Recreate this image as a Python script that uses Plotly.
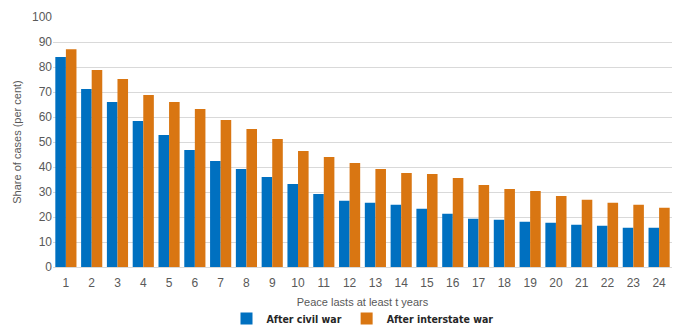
import plotly.graph_objects as go

years = [str(i) for i in range(1, 25)]
civil_war = [84, 71.2, 66, 58.4, 52.8, 46.8, 42.4, 39.2, 36, 33.2, 29.2, 26.5,
             25.7, 24.9, 23.3, 21.3, 19.3, 18.9, 18.1, 17.7, 16.9, 16.5, 15.7, 15.7]
interstate_war = [87.1, 78.8, 75.2, 68.8, 66, 63.2, 58.8, 55.2, 51.2, 46.4, 44, 41.6,
                  39.2, 37.6, 37.2, 35.6, 32.8, 31.2, 30.4, 28.4, 26.9, 25.7, 24.9, 23.7]
y_ticks = list(range(0, 101, 10))

fig = go.Figure()
fig.add_trace(go.Bar(x=years, y=civil_war, name="After civil war",
                     marker=dict(color="#0070C0", line=dict(width=0))))
fig.add_trace(go.Bar(x=years, y=interstate_war, name="After interstate war",
                     marker=dict(color="#D97612", line=dict(width=0))))

fig.update_layout(
    width=681, height=327,
    margin=dict(l=53, r=9, t=17, b=60, autoexpand=False),
    paper_bgcolor="white", plot_bgcolor="white",
    barmode="group", bargap=0.18, bargroupgap=0,
    font=dict(family="Liberation Sans", color="#595959", size=12),
    showlegend=True,
    legend=dict(orientation="h", x=0.5, xanchor="center", y=-0.148, yanchor="top",
                font=dict(family="DejaVu Sans Condensed, Liberation Sans Narrow, Liberation Sans",
                          size=10.5, color="#262626", weight="bold"),
                itemwidth=30, traceorder="normal", tracegroupgap=0,
                bgcolor="rgba(0,0,0,0)"),
    xaxis=dict(
        type="category",
        title=dict(text="Peace lasts at least t years", standoff=8,
                   font=dict(size=11, color="#595959")),
        showgrid=False, showline=True, linecolor="#D9D9D9", linewidth=1,
        ticks="outside", ticklen=5, tickcolor="rgba(0,0,0,0)",
        tickfont=dict(size=12, color="#595959"),
    ),
    yaxis=dict(
        range=[0, 100], tickvals=y_ticks,
        title=dict(text="Share of cases (per cent)", standoff=8,
                   font=dict(size=11, color="#595959")),
        showgrid=True, gridcolor="#D9D9D9", gridwidth=1,
        zeroline=False, ticks="", tickfont=dict(size=12, color="#595959"),
    ),
)

fig.write_html("out.html")
